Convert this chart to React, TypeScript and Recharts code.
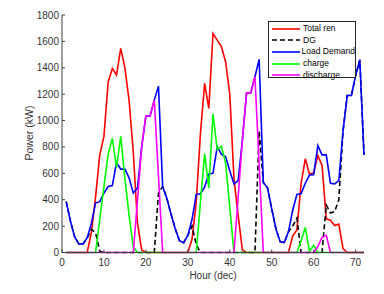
import { LineChart, Line, XAxis, YAxis, Legend } from "recharts";

// hourly values over three days
const hours = [
  1, 2, 3, 4, 5, 6, 7, 8, 9, 10, 11, 12, 13, 14, 15, 16, 17, 18, 19, 20, 21, 22, 23, 24,
  25, 26, 27, 28, 29, 30, 31, 32, 33, 34, 35, 36, 37, 38, 39, 40, 41, 42, 43, 44, 45, 46, 47, 48,
  49, 50, 51, 52, 53, 54, 55, 56, 57, 58, 59, 60, 61, 62, 63, 64, 65, 66, 67, 68, 69, 70, 71, 72,
];

const totalRen = [
  0, 0, 0, 0, 0, 0, 150, 420, 740, 880, 1290, 1395, 1345, 1547, 1400, 1150, 760, 220, 20, 0, 0, 0, 0, 0,
  0, 0, 0, 0, 0, 0, 100, 380, 900, 1282, 1092, 1660, 1610, 1560, 1446, 1200, 560, 280, 20, 0, 0, 0, 0, 0,
  0, 0, 0, 0, 0, 0, 125, 170, 520, 710, 595, 605, 735, 660, 255, 245, 205, 215, 30, 0, 0, 0, 0, 0,
];

const dg = [
  385, 240, 120, 65, 65, 110, 175, 150, 10, 0, 0, 0, 0, 0, 0, 0, 0, 0, 0, 0, 0, 0, 450, 500,
  410, 290, 180, 90, 75, 130, 200, 60, 0, 0, 0, 0, 0, 0, 0, 0, 0, 0, 0, 0, 0, 0, 920, 530,
  490, 330, 180, 82, 75, 158, 200, 260, 0, 0, 0, 0, 0, 0, 360, 300, 310, 400, 920, 1190, 1190, 1340, 1460, 740,
];

const loadDemand = [
  385, 240, 120, 65, 65, 110, 220, 375, 385, 450, 500, 507, 682, 632, 632, 565, 450, 490, 800, 1035, 1035, 1155, 1261, 500,
  410, 290, 180, 90, 75, 130, 250, 440, 445, 495, 595, 600, 800, 745, 725, 620, 520, 545, 850, 1210, 1210, 1332, 1464, 530,
  490, 330, 180, 82, 75, 158, 320, 440, 445, 525, 587, 590, 810, 740, 740, 525, 520, 545, 920, 1190, 1190, 1340, 1460, 740,
];

const charge = [
  0, 0, 0, 0, 0, 0, 0, 0, 250, 500, 745, 865, 645, 880, 560, 280, 40, 0, 0, 0, 0, 0, 0, 0,
  0, 0, 0, 0, 0, 0, 0, 0, 380, 750, 490, 1050, 780, 805, 680, 340, 0, 0, 0, 0, 0, 0, 0, 0,
  0, 0, 0, 0, 0, 0, 0, 0, 90, 190, 10, 55, 0, 0, 0, 0, 0, 0, 0, 0, 0, 0, 0, 0,
];

const discharge = [
  0, 0, 0, 0, 0, 0, 0, 0, 0, 0, 0, 0, 0, 0, 0, 0, 0, 400, 800, 1035, 1035, 1155, 580, 0,
  0, 0, 0, 0, 0, 0, 0, 0, 0, 0, 0, 0, 0, 0, 0, 0, 0, 420, 850, 1210, 1210, 1332, 666, 0,
  0, 0, 0, 0, 0, 0, 0, 0, 0, 0, 0, 0, 45, 115, 130, 0, 0, 0, 0, 0, 0, 0, 0, 0,
];

const xTicks = [0, 10, 20, 30, 40, 50, 60, 70];
const yTicks = [0, 200, 400, 600, 800, 1000, 1200, 1400, 1600, 1800];

const series = [
  { key: "totalRen", name: "Total ren", color: "#ff0000", dash: undefined },
  { key: "dg", name: "DG", color: "#000000", dash: "5 3" },
  { key: "load", name: "Load Demand", color: "#0000ff", dash: undefined },
  { key: "charge", name: "charge", color: "#00ff00", dash: undefined },
  { key: "discharge", name: "discharge", color: "#ff00ff", dash: undefined },
];

const data = hours.map((hour, i) => ({
  hour,
  totalRen: totalRen[i],
  dg: dg[i],
  load: loadDemand[i],
  charge: charge[i],
  discharge: discharge[i],
}));

const font = "'Liberation Sans', Arial, Helvetica, sans-serif";
const axisColor = "#404040";

function YTitle() {
  return (
    <text x={33} y={133} transform="rotate(-90 33 133)" textAnchor="middle" fontSize={10.5} fill="#333" fontFamily={font}>
      Power (kW)
    </text>
  );
}

function XTitle() {
  return (
    <text x={213} y={279} textAnchor="middle" fontSize={10} fill="#333" fontFamily={font}>
      Hour (dec)
    </text>
  );
}

function LegendBox() {
  return (
    <div
      style={{
        width: 88,
        height: 57,
        border: "1px solid #262626",
        background: "#fff",
        boxSizing: "border-box",
        paddingTop: 1,
        fontFamily: font,
        fontSize: 8.5,
        color: "#000",
      }}
    >
      {series.map((s) => (
        <div key={s.key} style={{ display: "flex", alignItems: "center", height: 11.6 }}>
          <svg width={32} height={8} style={{ marginLeft: 2 }}>
            <line x1={1} y1={4} x2={29} y2={4} stroke={s.color} strokeWidth={1.6} strokeDasharray={s.dash} />
          </svg>
          <span style={{ whiteSpace: "nowrap", lineHeight: "11px" }}>{s.name}</span>
        </div>
      ))}
    </div>
  );
}

export default function App() {
  return (
    <div style={{ position: "absolute", left: 0, top: 0, width: 384, height: 294, background: "#fff" }}>
      <LineChart width={384} height={294} data={data} margin={{ top: 15, right: 20, bottom: 11.5, left: 22 }}>
        <XAxis
          dataKey="hour"
          type="number"
          domain={[0, 72]}
          ticks={xTicks}
          interval={0}
          height={30}
          tickSize={-3}
          tickMargin={9}
          stroke={axisColor}
          tick={{ fontSize: 10, fill: "#333", fontFamily: font }}
          label={<XTitle />}
        />
        <XAxis
          xAxisId="top"
          orientation="top"
          dataKey="hour"
          type="number"
          domain={[0, 72]}
          ticks={xTicks}
          interval={0}
          height={0}
          mirror
          tickSize={3}
          tick={false}
          stroke={axisColor}
        />
        <YAxis
          type="number"
          domain={[0, 1800]}
          ticks={yTicks}
          interval={0}
          width={40}
          tickSize={-3}
          tickMargin={6}
          stroke={axisColor}
          tick={{ fontSize: 10, fill: "#333", fontFamily: font }}
          label={<YTitle />}
        />
        <YAxis
          yAxisId="right"
          orientation="right"
          type="number"
          domain={[0, 1800]}
          ticks={yTicks}
          interval={0}
          width={0}
          mirror
          tickSize={3}
          tick={false}
          stroke={axisColor}
        />
        <Legend
          layout="horizontal"
          verticalAlign="middle"
          align="center"
          wrapperStyle={{ left: 268, top: 21, width: 88 }}
          content={() => <LegendBox />}
        />
        {series.map((s) => (
          <Line
            key={s.key}
            type="linear"
            dataKey={s.key}
            name={s.name}
            stroke={s.color}
            strokeWidth={1.6}
            strokeDasharray={s.dash}
            dot={false}
            activeDot={false}
            isAnimationActive={false}
          />
        ))}
      </LineChart>
    </div>
  );
}
